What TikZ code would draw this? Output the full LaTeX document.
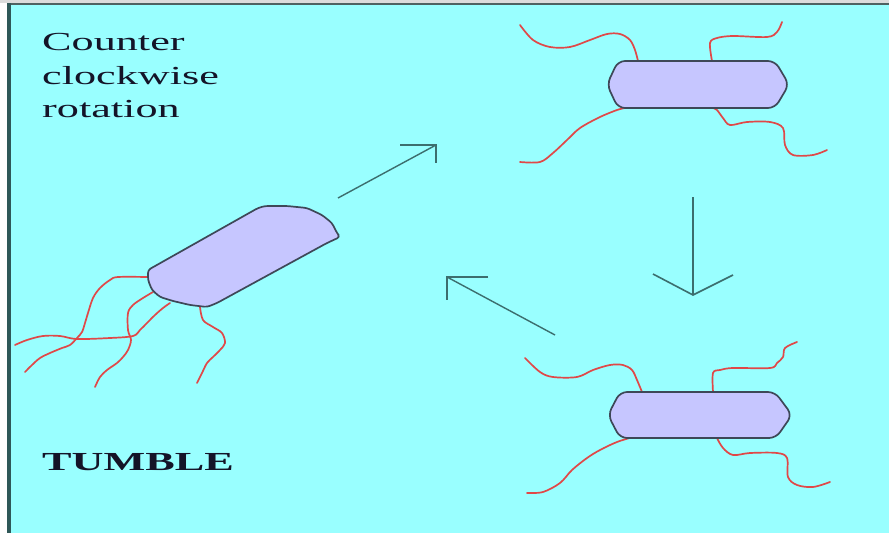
\documentclass[tikz,border=0pt]{standalone}
\usepackage{fontspec}
\newfontfamily\widefont[FakeStretch=1.7]{Liberation Serif}
\definecolor{pond}{HTML}{99FFFF}
\definecolor{frame}{HTML}{2F5858}
\definecolor{topstrip}{HTML}{DCDCDC}
\definecolor{topline}{HTML}{4E6262}
\definecolor{cellfill}{HTML}{C6C6FF}
\definecolor{cellline}{HTML}{3E4858}
\definecolor{flag}{HTML}{E04848}
\definecolor{flow}{HTML}{3C6E6E}
\definecolor{ink}{HTML}{141428}
\tikzset{
  cell/.style={fill=cellfill, draw=cellline, line width=1.7pt, line join=round},
  flagellum/.style={draw=flag, line width=1.7pt, line cap=round},
  flowline/.style={draw=flow, line width=1.4pt},
  flowhead/.style={draw=flow, line width=1.6pt, line join=miter},
  lbl/.style={inner sep=0pt, text=ink, font=\widefont\fontsize{26}{34}\selectfont, align=left}
}
\begin{document}
\begin{tikzpicture}[x=1pt, y=-1pt]
  \useasboundingbox (0,0) rectangle (889,533);
  % page frame and water
  \fill[white] (0,0) rectangle (889,533);
  \fill[pond] (10,5) rectangle (889,533);
  \fill[topstrip] (0,0) rectangle (889,3);
  \fill[topline] (7,3) rectangle (889,5);
  \fill[frame] (7,3) rectangle (10.5,533);

  % labels
  \node[lbl, anchor=base west] (ccw) at (42,50) {Counter};
  \node[lbl, anchor=base west] (ccw2) at (42,84) {clockwise};
  \node[lbl, anchor=base west] (ccw3) at (42,117) {rotation};
  \node[lbl, anchor=base west, font=\widefont\bfseries\fontsize{26}{34}\selectfont] (tumble) at (42,470) {TUMBLE};

  % tumbling cell, tilted, flagella splayed
  \draw[flagellum] plot[smooth, tension=0.55] coordinates {(147,277) (118,277) (110,280) (100,288) (93,298) (88,313) (85,323) (82,332) (77,338) (70,345) (62,348) (50,353) (40,358) (32,365) (25,372)};
  \draw[flagellum] plot[smooth, tension=0.55] coordinates {(170,303) (163,308) (155,315) (147,323) (140,330) (133,336) (110,338) (77,339) (60,336) (43,336) (27,340) (15,345)};
  \draw[flagellum] plot[smooth, tension=0.55] coordinates {(153,292) (143,298) (133,305) (128,313) (128,330) (131,340) (128,350) (123,357) (117,363) (107,370) (100,377) (95,387)};
  \draw[flagellum] plot[smooth, tension=0.55] coordinates {(200,307) (203,320) (213,327) (222,333) (225,343) (220,350) (213,357) (207,363) (202,373) (197,383)};
  \draw[cell, rounded corners=3pt] (148,270) -- (258,208) -- (265,206) -- (287,206) -- (307,208) -- (322,215) -- (332,223) -- (337,233) -- (340,237) -- (327,243) -- (217,303) -- (207,307) -- (190,305) -- (173,301) -- (160,297) -- (152,290) -- (148,280) -- cycle;

  % upper running cell
  \draw[flagellum] plot[smooth, tension=0.55] coordinates {(638,61) (635,50) (630,40) (620,34) (607,34) (590,40) (570,47) (550,47) (533,40) (520,25)};
  \draw[flagellum] plot[smooth, tension=0.55] coordinates {(712,61) (710,43) (717,38) (733,36) (767,37) (777,32) (782,22)};
  \draw[flagellum] plot[smooth, tension=0.55] coordinates {(625,108) (617,110) (600,117) (580,128) (567,140) (553,153) (540,162) (520,162)};
  \draw[flagellum] plot[smooth, tension=0.55] coordinates {(713,108) (717,110) (723,118) (730,125) (747,122) (770,122) (783,128) (785,145) (793,155) (813,155) (827,150)};
  \draw[cell, rounded corners=7pt] (618,61) -- (775,61) -- (789,84.5) -- (775,108) -- (618,108) -- (607,84.5) -- cycle;

  % lower running cell
  \draw[flagellum] plot[smooth, tension=0.55] coordinates {(642,392) (637,380) (632,370) (623,365) (610,365) (593,370) (577,377) (553,377) (540,372) (525,358)};
  \draw[flagellum] plot[smooth, tension=0.55] coordinates {(713,392) (713,373) (720,370) (733,368) (770,368) (777,363) (783,357) (785,348) (797,342)};
  \draw[flagellum] plot[smooth, tension=0.55] coordinates {(633,437) (617,442) (600,450) (587,458) (572,470) (560,483) (543,492) (527,493)};
  \draw[flagellum] plot[smooth, tension=0.55] coordinates {(717,438) (723,448) (733,455) (750,453) (777,453) (787,458) (788,477) (797,485) (813,487) (830,482)};
  \draw[cell, rounded corners=7pt] (620,392) -- (775,392) -- (792,415) -- (776,438) -- (620,438) -- (608,415) -- cycle;

  % cycle arrows
  \coordinate (a1s) at (338,198);
  \coordinate (a1e) at (436,145);
  \coordinate (a1l) at (400,145);
  \coordinate (a1r) at (436,163);
  \coordinate (a2s) at (693,197);
  \coordinate (a2e) at (693,295);
  \coordinate (a2l) at (653,274);
  \coordinate (a2r) at (733,275);
  \coordinate (a3s) at (555,335);
  \coordinate (a3e) at (447,277);
  \coordinate (a3l) at (488,277);
  \coordinate (a3r) at (447,300);

  \draw[flowline] (a1s) -- (a1e);
  \draw[flowhead] (a1l) -- (a1e) -- (a1r);
  \draw[flowline, line width=2.2pt] (a2s) -- (a2e);
  \draw[flowhead] (a2l) -- (a2e) -- (a2r);
  \draw[flowline] (a3s) -- (a3e);
  \draw[flowhead] (a3l) -- (a3e) -- (a3r);
\end{tikzpicture}
\end{document}
